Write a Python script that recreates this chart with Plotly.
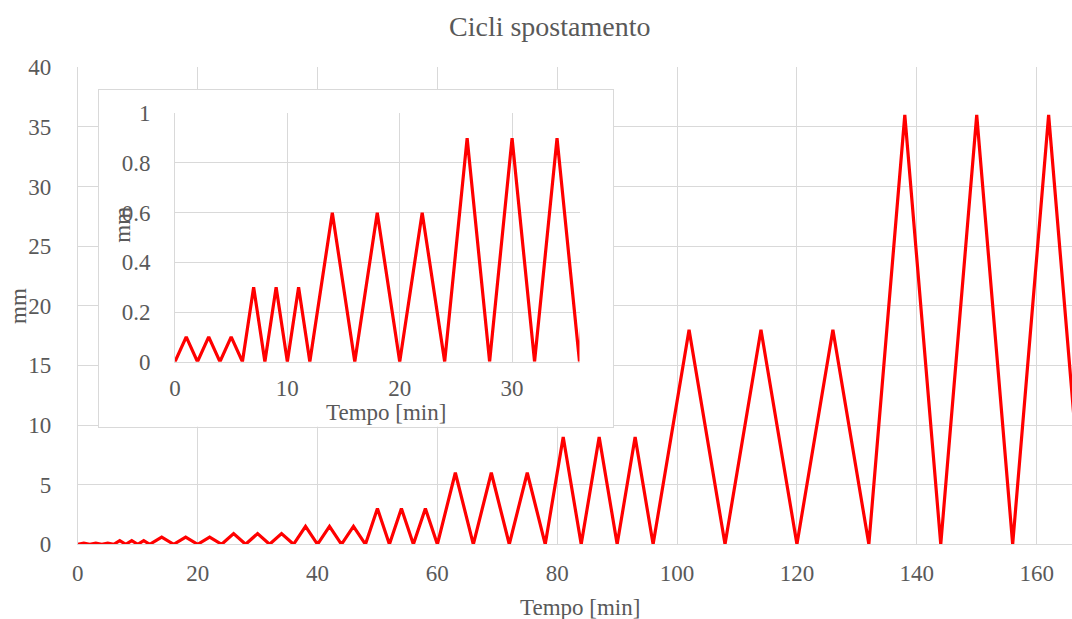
import plotly.graph_objects as go

# Turning points of the displacement cycles
tempo_min = [0, 1, 2, 3, 4, 5, 6, 7, 8, 9, 10, 11, 12, 14, 16, 18, 20, 22, 24,
             26, 28, 30, 32, 34, 36, 38, 40, 42, 44, 46, 48, 50, 52, 54, 56, 58,
             60, 63, 66, 69, 72, 75, 78, 81, 84, 87, 90, 93, 96, 102, 108, 114,
             120, 126, 132, 138, 144, 150, 156, 162, 168]
spostamento_mm = [0, 0.1, 0, 0.1, 0, 0.1, 0, 0.3, 0, 0.3, 0, 0.3, 0, 0.6, 0, 0.6,
                  0, 0.6, 0, 0.9, 0, 0.9, 0, 0.9, 0, 1.5, 0, 1.5, 0, 1.5, 0, 3,
                  0, 3, 0, 3, 0, 6, 0, 6, 0, 6, 0, 9, 0, 9, 0, 9, 0, 18, 0, 18,
                  0, 18, 0, 36, 0, 36, 0, 36, 0]

title_text = "Cicli spostamento"
x_title = "Tempo [min]"
y_title = "mm"

W, H = 1072, 619
FONT = "Liberation Serif, Times New Roman, serif"
TXT = "#595959"
GRID = "#d9d9d9"
RED = "#ff0000"


def px(x):
    return x / W


def py(y):
    return (H - y) / H


fig = go.Figure()

# main series
fig.add_trace(go.Scatter(x=tempo_min, y=spostamento_mm, mode="lines",
                         line=dict(color=RED, width=3.2), xaxis="x", yaxis="y",
                         showlegend=False, hoverinfo="skip"))
# blank subplot acting as the inset's white box
fig.add_trace(go.Scatter(x=[], y=[], xaxis="x2", yaxis="y2",
                         showlegend=False, hoverinfo="skip"))
# inset series (zoom on first 36 minutes)
fig.add_trace(go.Scatter(x=tempo_min, y=spostamento_mm, mode="lines",
                         line=dict(color=RED, width=3.2), xaxis="x3", yaxis="y3",
                         showlegend=False, hoverinfo="skip"))

tickfont = dict(family=FONT, size=23, color=TXT)

fig.update_layout(
    width=W, height=H,
    margin=dict(l=0, r=0, t=0, b=0, autoexpand=False),
    paper_bgcolor="white", plot_bgcolor="white",
    hovermode=False,
    xaxis=dict(domain=[px(77.8), 1.0], range=[0, 165.9], dtick=20, tick0=0,
               showgrid=True, gridcolor=GRID, gridwidth=1, zeroline=False,
               showline=True, linecolor=GRID, linewidth=1, ticks="",
               tickfont=tickfont, ticklabelstandoff=8, anchor="y",
               automargin=False),
    yaxis=dict(domain=[py(544.3), py(67.3)], range=[0, 40], dtick=5, tick0=0,
               showgrid=True, gridcolor=GRID, gridwidth=1, zeroline=False,
               showline=True, linecolor=GRID, linewidth=1, ticks="",
               tickfont=tickfont, ticklabelstandoff=21, anchor="x",
               automargin=False),
    xaxis2=dict(domain=[px(99), px(613.3)], range=[0, 1], anchor="y2",
                showgrid=False, zeroline=False, showticklabels=False, ticks="",
                showline=True, mirror=True, linecolor=GRID, linewidth=1),
    yaxis2=dict(domain=[py(426.7), py(90)], range=[0, 1], anchor="x2",
                showgrid=False, zeroline=False, showticklabels=False, ticks="",
                showline=True, mirror=True, linecolor=GRID, linewidth=1),
    xaxis3=dict(domain=[px(175), px(579.5)], range=[0, 36], dtick=10, tick0=0,
                anchor="y3", showgrid=True, gridcolor=GRID, zeroline=False,
                showline=True, linecolor=GRID, linewidth=1, ticks="",
                tickfont=tickfont, ticklabelstandoff=6, automargin=False),
    yaxis3=dict(domain=[py(361.7), py(113.3)], range=[0, 1], dtick=0.2, tick0=0,
                anchor="x3", showgrid=True, gridcolor=GRID, zeroline=False,
                showline=True, linecolor=GRID, linewidth=1, ticks="",
                tickfont=tickfont, ticklabelstandoff=19, automargin=False),
    annotations=[
        dict(text=title_text, x=px(549), y=py(27), xref="paper", yref="paper",
             xanchor="center", yanchor="middle", showarrow=False,
             font=dict(family=FONT, size=28, color=TXT)),
        dict(text=x_title, x=px(580), y=py(607), xref="paper", yref="paper",
             xanchor="center", yanchor="middle", showarrow=False,
             font=dict(family=FONT, size=23, color=TXT)),
        dict(text=y_title, x=px(18), y=py(306), xref="paper", yref="paper",
             xanchor="center", yanchor="middle", showarrow=False, textangle=-90,
             font=dict(family=FONT, size=23, color=TXT)),
        dict(text=x_title, x=px(386), y=py(413), xref="paper", yref="paper",
             xanchor="center", yanchor="middle", showarrow=False,
             font=dict(family=FONT, size=23, color=TXT)),
        dict(text=y_title, x=px(121.7), y=py(225), xref="paper", yref="paper",
             xanchor="center", yanchor="middle", showarrow=False, textangle=-90,
             font=dict(family=FONT, size=23, color=TXT)),
    ],
)

fig.write_html(
    "out.html",
    config={"displayModeBar": False, "staticPlot": True},
    post_script="document.body.style.margin='0';document.body.style.padding='0';"
                "document.body.style.overflow='hidden';",
)
